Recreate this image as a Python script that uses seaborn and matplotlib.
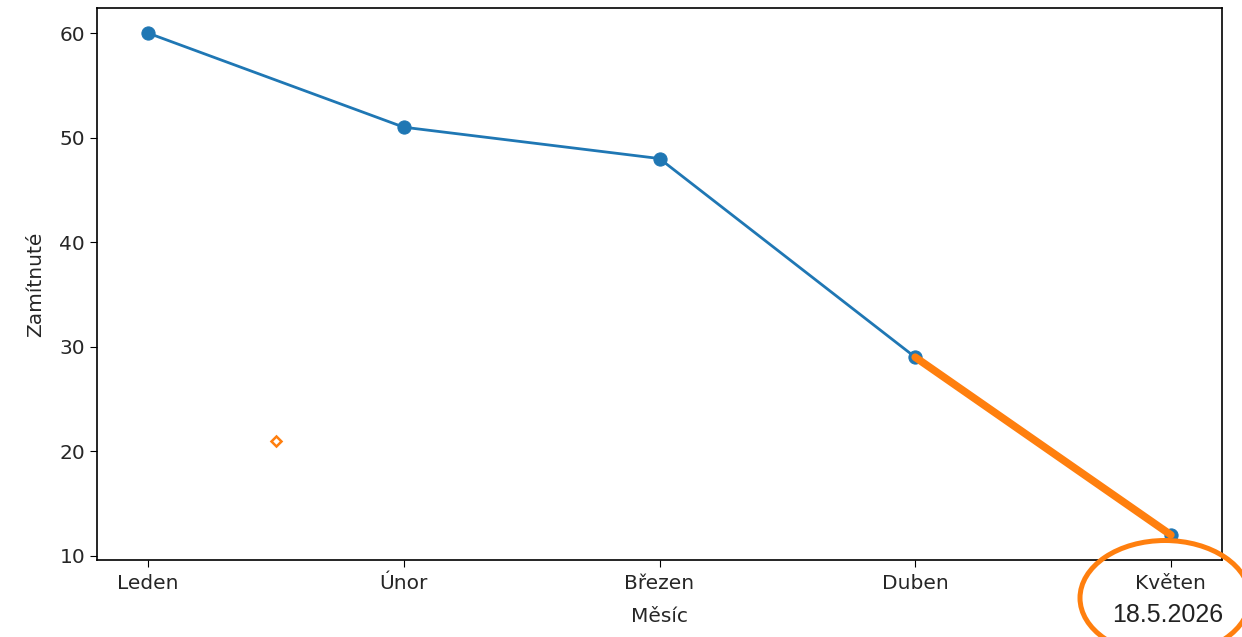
import matplotlib
matplotlib.use("Agg")
import matplotlib.pyplot as plt
import seaborn as sns
import pandas as pd
from matplotlib.patches import Ellipse

# data
months = ["Leden", "Únor", "Březen", "Duben", "Květen"]
rejected = [60, 51, 48, 29, 12]
highlight_months = ["Duben", "Květen"]
highlight_values = [29, 12]
stray_x = [0.5]
stray_y = [21]
date_note = "18.5.2026"

BLUE = "#1f77b4"
ORANGE = "#ff7f0e"

plt.rcParams["font.family"] = ["DejaVu Sans"]
plt.rcParams["font.size"] = 14.5
plt.rcParams["xtick.major.size"] = 5
plt.rcParams["ytick.major.size"] = 5
plt.rcParams["xtick.major.pad"] = 5
plt.rcParams["text.color"] = "#262626"
plt.rcParams["xtick.labelcolor"] = "#262626"
plt.rcParams["ytick.labelcolor"] = "#262626"

df = pd.DataFrame({"Měsíc": months, "Zamítnuté": rejected})
x_pos = list(range(len(months)))

fig = plt.figure(figsize=(12.42, 6.37), dpi=100)
ax = fig.add_axes([0.0781, 0.1209, 0.9058, 0.8665])

sns.lineplot(x=x_pos, y=rejected, color=BLUE, marker="o", markersize=9.5,
             markeredgecolor=BLUE, linewidth=2, ax=ax)

# hand-drawn style highlight of the last segment
hl_pos = [months.index(m) for m in highlight_months]
sns.lineplot(x=hl_pos, y=highlight_values, color=ORANGE, linewidth=5.5,
             solid_capstyle="round", ax=ax)
ax.plot(stray_x, stray_y, marker="D", markersize=5, markerfacecolor="white",
        markeredgecolor=ORANGE, markeredgewidth=1.8, linestyle="none")

ax.set_xticks(x_pos)
ax.set_xticklabels(months)
ax.set_xlabel("Měsíc", labelpad=10, color="#262626")
ax.set_ylabel("Zamítnuté", labelpad=10, color="#262626")
ax.set_yticks([10, 20, 30, 40, 50, 60])
ax.margins(x=0.05, y=0.05)
for s in ax.spines.values():
    s.set_linewidth(1.2)

# date note below the last tick and the circle around it
fig.text(1168 / 1242, 1 - 615 / 637, date_note, fontsize=18,
         family=["Liberation Sans", "DejaVu Sans"], ha="center", va="center",
         color="#222222")
ell = Ellipse((1165 / 1242, 1 - 598 / 637), 170 / 1242, 115 / 637,
              transform=fig.transFigure, fill=False, edgecolor=ORANGE,
              linewidth=3.6, clip_on=False)
fig.add_artist(ell)

fig.savefig("out.png", dpi=100)
